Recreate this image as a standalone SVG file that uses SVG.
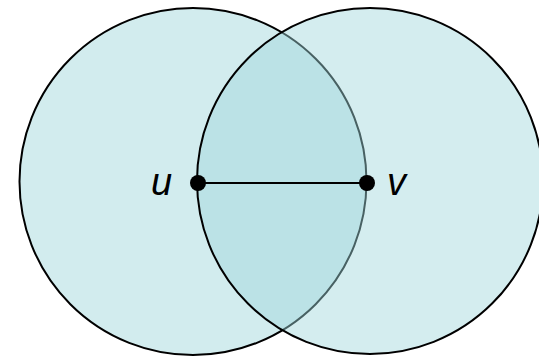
<svg xmlns="http://www.w3.org/2000/svg" width="539" height="356" viewBox="0 0 539 356">
<style>
.disk{stroke:#000;stroke-width:2}
.lbl{font-family:"Liberation Sans",Arial,sans-serif;font-style:italic;font-size:38px;fill:#000}
</style>
<rect width="539" height="356" fill="#fff"/>
<g id="disk-u"><circle class="disk" cx="193" cy="181.5" r="173.5" fill="#d2ecee"/></g>
<g id="disk-v"><circle class="disk" cx="370" cy="181" r="173" fill="rgb(160,214,220)" fill-opacity="0.45"/></g>
<g id="connectors"><line x1="198" y1="183" x2="367" y2="183" stroke="#000" stroke-width="2"/></g>
<g id="node-u"><circle cx="198" cy="183" r="8" fill="#000"/><text class="lbl" x="151" y="195">u</text></g>
<g id="node-v"><circle cx="367" cy="183" r="8" fill="#000"/><text class="lbl" x="387" y="195">v</text></g>
</svg>
